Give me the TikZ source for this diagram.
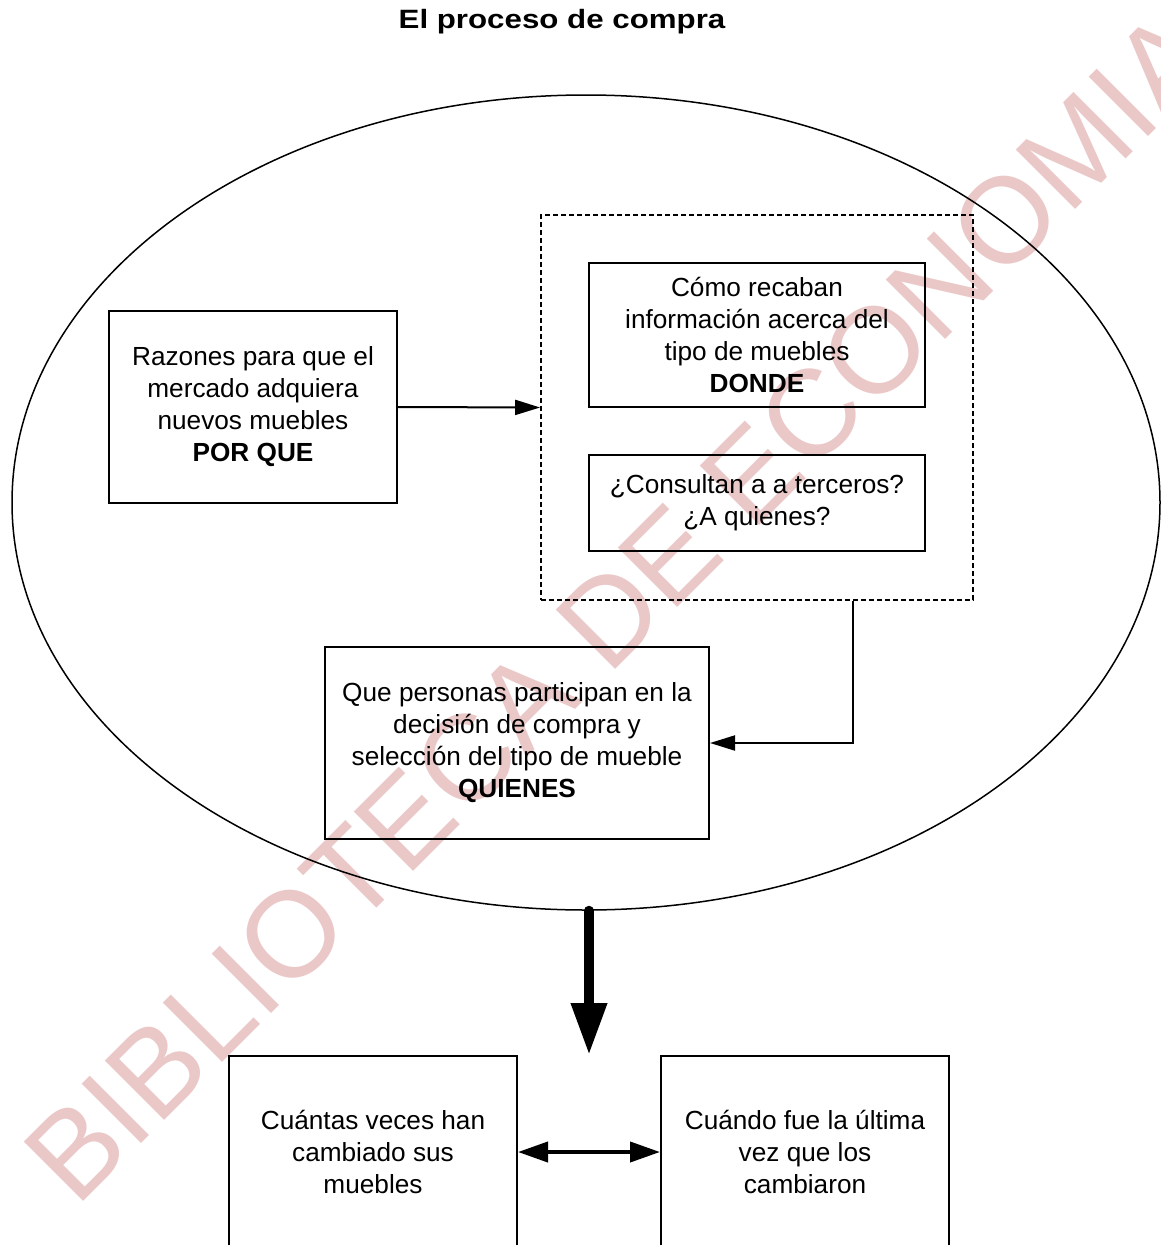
\documentclass[tikz,border=0pt]{standalone}
\usepackage{fontspec}
\setmainfont{Liberation Sans}
\usetikzlibrary{arrows.meta,shapes.geometric}
\definecolor{wmpink}{RGB}{235,200,200}
\tikzset{
  txt/.style={font=\fontsize{26.2}{32}\selectfont, align=center},
  box/.style={txt, draw, line width=2pt, inner sep=0pt},
  dbox/.style={draw, dashed, dash pattern=on 5pt off 3pt, line width=1.8pt, inner sep=0pt},
  arr/.style={line width=2pt, -{Triangle[length=25pt,width=15pt]}},
  darr/.style={line width=4pt, {Triangle[length=30pt,width=20pt]}-{Triangle[length=30pt,width=20pt]}},
  bigarr/.style={line width=10pt, line cap=round, -{Triangle[length=52pt,width=34pt]}}
}
\begin{document}
\begin{tikzpicture}[x=1pt,y=-1pt]
\useasboundingbox (0,0) rectangle (1161,1245);
\clip (0,0) rectangle (1161,1245);
% watermark
\node[rotate=45, anchor=base west, inner sep=0pt, text=wmpink,
      font=\fontsize{122}{122}\selectfont] (wm) at (76,1209) {BIBLIOTECA DE ECONOMIA};
% title
\node[font=\fontsize{26.5}{30}\selectfont\bfseries, xscale=1.18] (title) at (562,22) {El proceso de compra};
% ellipse
\node[ellipse, draw, line width=1.5pt, inner sep=0pt, minimum width=1148pt, minimum height=815pt] (oval) at (586,502.5) {};
% boxes
\node[box, minimum width=288pt, minimum height=192pt] (porque) at (253,407)
  {Razones para que el\\mercado adquiera\\nuevos muebles\\\textbf{POR QUE}};
\node[dbox, minimum width=432pt, minimum height=385pt] (group) at (757,407.5) {};
\node[box, minimum width=336pt, minimum height=144pt] (donde) at (757,335)
  {Cómo recaban\\información acerca del\\tipo de muebles\\\textbf{DONDE}};
\node[box, minimum width=336pt, minimum height=96pt] (consultan) at (757,503)
  {¿Consultan a a terceros?\\¿A quienes?};
\node[box, minimum width=384pt, minimum height=192pt] (quienes) at (517,743)
  {Que personas participan en la\\decisión de compra y\\selección del tipo de mueble\\\textbf{QUIENES}};
\node[box, minimum width=288pt, minimum height=192pt] (veces) at (373,1152)
  {Cuántas veces han\\cambiado sus\\muebles};
\node[box, minimum width=288pt, minimum height=192pt] (cuando) at (805,1152)
  {Cuándo fue la última\\vez que los\\cambiaron};
\coordinate (tipB) at (589,1055);
% connectors
\draw[arr] (porque.east) -- (group.west);
\draw[arr] ([xshift=96pt]group.south) |- (quienes.east);
\draw[bigarr] ([xshift=3pt]oval.south) -- (tipB);
\draw[darr] (veces.east) -- (cuando.west);
\end{tikzpicture}
\end{document}
